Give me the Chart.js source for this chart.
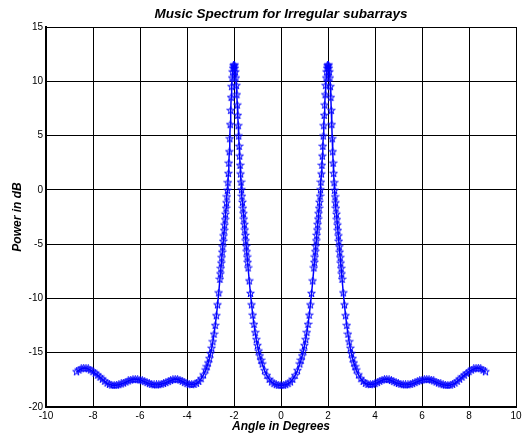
<!DOCTYPE html>
<html>
<head>
<meta charset="utf-8">
<title>Music Spectrum for Irregular subarrays</title>
<script src="https://cdn.jsdelivr.net/npm/chart.js@4/dist/chart.umd.min.js"></script>
<style>
  html, body { margin: 0; padding: 0; background: #ffffff; }
  #wrap { width: 527px; height: 435px; }
</style>
</head>
<body>
<div id="wrap"><canvas id="spectrum" width="527" height="435"></canvas></div>
<script>
// Scan angles (degrees)
const angleDeg = [
  -8.7, -8.6, -8.5, -8.4, -8.3, -8.2, -8.1, -8.0, -7.9, -7.8,
  -7.7, -7.6, -7.5, -7.4, -7.3, -7.2, -7.1, -7.0, -6.9, -6.8,
  -6.7, -6.6, -6.5, -6.4, -6.3, -6.2, -6.1, -6.0, -5.9, -5.8,
  -5.7, -5.6, -5.5, -5.4, -5.3, -5.2, -5.1, -5.0, -4.9, -4.8,
  -4.7, -4.6, -4.5, -4.4, -4.3, -4.2, -4.1, -4.0, -3.9, -3.8,
  -3.7, -3.6, -3.5, -3.4, -3.3,
  -3.2, -3.15, -3.1, -3.05, -3.0, -2.95, -2.9, -2.85, -2.8, -2.75, -2.7, -2.65,
  -2.6, -2.58, -2.56, -2.54, -2.52, -2.5, -2.48, -2.46, -2.44, -2.42,
  -2.4, -2.38, -2.36, -2.34, -2.32, -2.3, -2.28, -2.26, -2.24, -2.22,
  -2.2, -2.18, -2.16, -2.14, -2.12, -2.1, -2.08, -2.06, -2.04, -2.02,
  -2.0,
  -1.98, -1.96, -1.94, -1.92, -1.9, -1.88, -1.86, -1.84, -1.82, -1.8,
  -1.78, -1.76, -1.74, -1.72, -1.7, -1.68, -1.66, -1.64, -1.62, -1.6,
  -1.58, -1.56, -1.54, -1.52, -1.5, -1.48, -1.46, -1.44, -1.42, -1.4,
  -1.35, -1.3, -1.25, -1.2, -1.15, -1.1, -1.05, -1.0, -0.95, -0.9, -0.85, -0.8,
  -0.7, -0.6, -0.5, -0.4, -0.3, -0.2, -0.1, 0.0, 0.1, 0.2, 0.3, 0.4, 0.5, 0.6, 0.7,
  0.8, 0.85, 0.9, 0.95, 1.0, 1.05, 1.1, 1.15, 1.2, 1.25, 1.3, 1.35,
  1.4, 1.42, 1.44, 1.46, 1.48, 1.5, 1.52, 1.54, 1.56, 1.58,
  1.6, 1.62, 1.64, 1.66, 1.68, 1.7, 1.72, 1.74, 1.76, 1.78,
  1.8, 1.82, 1.84, 1.86, 1.88, 1.9, 1.92, 1.94, 1.96, 1.98,
  2.0,
  2.02, 2.04, 2.06, 2.08, 2.1, 2.12, 2.14, 2.16, 2.18, 2.2,
  2.22, 2.24, 2.26, 2.28, 2.3, 2.32, 2.34, 2.36, 2.38, 2.4,
  2.42, 2.44, 2.46, 2.48, 2.5, 2.52, 2.54, 2.56, 2.58, 2.6,
  2.65, 2.7, 2.75, 2.8, 2.85, 2.9, 2.95, 3.0, 3.05, 3.1, 3.15, 3.2,
  3.3, 3.4, 3.5, 3.6, 3.7, 3.8, 3.9, 4.0, 4.1, 4.2,
  4.3, 4.4, 4.5, 4.6, 4.7, 4.8, 4.9, 5.0, 5.1, 5.2,
  5.3, 5.4, 5.5, 5.6, 5.7, 5.8, 5.9, 6.0, 6.1, 6.2,
  6.3, 6.4, 6.5, 6.6, 6.7, 6.8, 6.9, 7.0, 7.1, 7.2,
  7.3, 7.4, 7.5, 7.6, 7.7, 7.8, 7.9, 8.0, 8.1, 8.2,
  8.3, 8.4, 8.5, 8.6, 8.7
];

// MUSIC pseudo-spectrum (dB) at each scan angle
const powerDb = [
  -16.76, -16.6, -16.48, -16.42, -16.43, -16.49, -16.6, -16.75, -16.9, -17.07,
  -17.25, -17.44, -17.63, -17.8, -17.92, -17.99, -18.01, -17.99, -17.95, -17.88,
  -17.8, -17.7, -17.6, -17.52, -17.47, -17.46, -17.48, -17.52, -17.58, -17.66,
  -17.76, -17.85, -17.92, -17.96, -17.97, -17.95, -17.9, -17.84, -17.76, -17.66,
  -17.56, -17.48, -17.45, -17.47, -17.53, -17.63, -17.75, -17.85, -17.92, -17.95,
  -17.92, -17.82, -17.65, -17.4, -17.05,
  -16.6, -16.3, -15.95, -15.55, -15.1, -14.6, -14.0, -13.3, -12.5, -11.6, -10.6, -9.5,
  -8.25, -7.75, -7.25, -6.75, -6.25, -5.75, -5.25, -4.75, -4.25, -3.75,
  -3.25, -2.75, -2.25, -1.7, -1.2, -0.65, -0.05, 0.65, 1.5, 2.45,
  3.5, 4.7, 6.0, 7.3, 8.5, 9.5, 10.3, 10.85, 11.2, 11.42,
  11.5,
  11.42, 11.2, 10.85, 10.3, 9.6, 8.75, 7.8, 6.85, 5.9, 4.95,
  4.0, 3.1, 2.25, 1.45, 0.7, 0.0, -0.6, -1.15, -1.7, -2.2,
  -2.7, -3.2, -3.7, -4.2, -4.7, -5.2, -5.7, -6.2, -6.7, -7.2,
  -8.4, -9.55, -10.6, -11.55, -12.4, -13.15, -13.8, -14.35, -14.85, -15.3, -15.7, -16.05,
  -16.65, -17.1, -17.45, -17.7, -17.85, -17.95, -18.0, -18.02, -18.0, -17.95, -17.85, -17.7, -17.45, -17.1, -16.65,
  -16.05, -15.7, -15.3, -14.85, -14.35, -13.8, -13.15, -12.4, -11.55, -10.6, -9.55, -8.4,
  -7.2, -6.7, -6.2, -5.7, -5.2, -4.7, -4.2, -3.7, -3.2, -2.7,
  -2.2, -1.7, -1.15, -0.6, 0.0, 0.7, 1.45, 2.25, 3.1, 4.0,
  4.95, 5.9, 6.85, 7.8, 8.75, 9.6, 10.3, 10.85, 11.2, 11.42,
  11.5,
  11.42, 11.2, 10.85, 10.3, 9.5, 8.5, 7.3, 6.0, 4.7, 3.5,
  2.45, 1.5, 0.65, -0.05, -0.65, -1.2, -1.7, -2.25, -2.75, -3.25,
  -3.75, -4.25, -4.75, -5.25, -5.75, -6.25, -6.75, -7.25, -7.75, -8.25,
  -9.5, -10.6, -11.6, -12.5, -13.3, -14.0, -14.6, -15.1, -15.55, -15.95, -16.3, -16.6,
  -17.05, -17.4, -17.65, -17.82, -17.92, -17.95, -17.92, -17.85, -17.75, -17.63,
  -17.53, -17.47, -17.45, -17.48, -17.56, -17.66, -17.76, -17.84, -17.9, -17.95,
  -17.97, -17.96, -17.92, -17.85, -17.76, -17.66, -17.58, -17.52, -17.48, -17.46,
  -17.47, -17.52, -17.6, -17.7, -17.8, -17.88, -17.95, -17.99, -18.01, -17.99,
  -17.92, -17.8, -17.63, -17.44, -17.25, -17.07, -16.9, -16.75, -16.6, -16.49,
  -16.43, -16.42, -16.48, -16.6, -16.76
];

// Axis ticks
const xTicks = [-10, -8, -6, -4, -2, 0, 2, 4, 6, 8, 10];
const yTicks = [-20, -15, -10, -5, 0, 5, 10, 15];

const TICK_FONT = { family: 'Liberation Sans, Arial, sans-serif', size: 10 };
const TITLE_FONT = { family: 'Liberation Sans, Arial, sans-serif', size: 13.5, weight: 'bold', style: 'italic' };
const LABEL_FONT = { family: 'Liberation Sans, Arial, sans-serif', size: 12, weight: 'bold', style: 'italic' };

// Small pentagram marker
function pentagram(size, color) {
  const c = document.createElement('canvas');
  c.width = size; c.height = size;
  const g = c.getContext('2d');
  const cx = size / 2, cy = size / 2;
  const R = size / 2 - 0.5, r = R * 0.4;
  g.beginPath();
  for (let i = 0; i < 10; i++) {
    const a = -Math.PI / 2 + i * Math.PI / 5;
    const rad = (i % 2) ? r : R;
    g.lineTo(cx + rad * Math.cos(a), cy + rad * Math.sin(a));
  }
  g.closePath();
  g.strokeStyle = color;
  g.lineWidth = 1;
  g.stroke();
  return c;
}

const points = angleDeg.map((a, i) => ({ x: a, y: powerDb[i] }));

new Chart(document.getElementById('spectrum'), {
  type: 'line',
  data: {
    datasets: [{
      data: points,
      borderColor: '#0000ff',
      backgroundColor: '#0000ff',
      borderWidth: 1.5,
      pointStyle: pentagram(9, '#0000ff'),
      pointRadius: 4,
      tension: 0,
      fill: false
    }]
  },
  options: {
    responsive: false,
    animation: false,
    events: [],
    layout: { padding: { left: 0, right: 11, top: 0, bottom: 0 } },
    plugins: {
      legend: { display: false },
      tooltip: { enabled: false },
      title: {
        display: true,
        fullSize: false,
        text: 'Music Spectrum for Irregular subarrays',
        color: '#000',
        font: TITLE_FONT,
        padding: { top: 6, bottom: 4.8 }
      }
    },
    scales: {
      x: {
        type: 'linear',
        min: -10, max: 10,
        afterFit: (s) => { s.height = 28; },
        afterBuildTicks: (s) => { s.ticks = xTicks.map(v => ({ value: v })); },
        ticks: { color: '#000', font: TICK_FONT, padding: 3, maxRotation: 0, autoSkip: false },
        grid: { color: '#000', lineWidth: 1, drawTicks: false },
        border: { color: '#000', width: 2 },
        title: {
          display: true, text: 'Angle in Degrees', color: '#000', font: LABEL_FONT,
          padding: { top: 0, bottom: 0.8 }
        }
      },
      y: {
        type: 'linear',
        min: -20, max: 15,
        afterFit: (s) => { s.width = 46; },
        afterBuildTicks: (s) => { s.ticks = yTicks.map(v => ({ value: v })); },
        ticks: { color: '#000', font: TICK_FONT, padding: 3, autoSkip: false },
        grid: { color: '#000', lineWidth: 1, drawTicks: false },
        border: { color: '#000', width: 2 },
        title: {
          display: true, text: 'Power in dB', color: '#000', font: LABEL_FONT,
          padding: { top: 10.8, bottom: 0 }
        }
      }
    }
  }
});
</script>
</body>
</html>
